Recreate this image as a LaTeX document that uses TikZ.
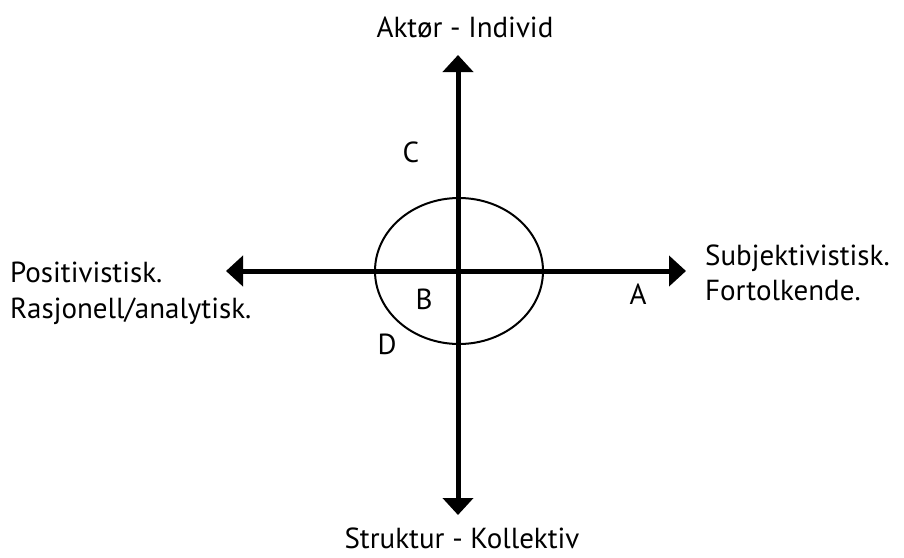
\documentclass[tikz,border=0pt]{standalone}
\usepackage{fontspec}
\setmainfont{PT Sans}
\usetikzlibrary{arrows.meta,shapes.geometric}
\begin{document}
\begin{tikzpicture}[x=1pt,y=-1pt,
  axis/.style={line width=5pt,-{Triangle[width=30pt,length=17pt]}},
  lbl/.style={inner sep=0pt,font=\fontsize{29}{36}\selectfont},
  letter/.style={inner sep=0pt,font=\fontsize{29}{36}\selectfont}]
\useasboundingbox (0,0) rectangle (904,557);
\node[ellipse,draw,line width=2pt,minimum width=168pt,minimum height=146pt,inner sep=0pt] (circ) at (459,271) {};
\coordinate (ctr) at (458,271);
\coordinate (top) at (458,55);
\coordinate (bot) at (458,515);
\coordinate (lft) at (226,271);
\coordinate (rgt) at (686,271);
\draw[axis] (ctr) -- (top);
\draw[axis] (ctr) -- (bot);
\draw[axis] (ctr) -- (lft);
\draw[axis] (ctr) -- (rgt);
\node[lbl,anchor=base] (tt) at (465,37) {Aktør - Individ};
\node[lbl,anchor=base] (bt) at (462,548) {Struktur - Kollektiv};
\node[lbl,anchor=base west] (l1) at (10,282) {Positivistisk.};
\node[lbl,anchor=base west] (l2) at (10,318) {Rasjonell/analytisk.};
\node[lbl,anchor=base west] (r1) at (705,265) {Subjektivistisk.};
\node[lbl,anchor=base west] (r2) at (705,300) {Fortolkende.};
\node[letter] (C) at (411,152) {C};
\node[letter] (B) at (424,299) {B};
\node[letter] (D) at (387,344) {D};
\node[letter] (A) at (638,294) {A};
\end{tikzpicture}
\end{document}
